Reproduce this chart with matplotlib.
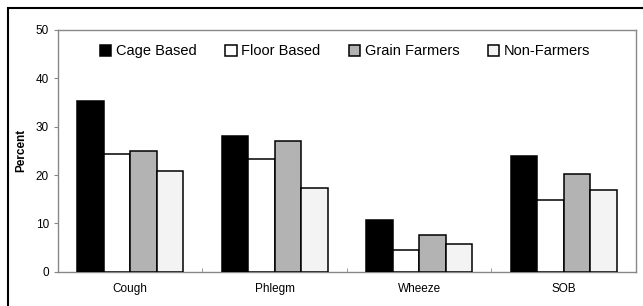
import matplotlib.pyplot as plt
from matplotlib.patches import Rectangle
import numpy as np

# Data
symptoms = ['Cough', 'Phlegm', 'Wheeze', 'SOB']
groups = ['Cage Based', 'Floor Based', 'Grain Farmers', 'Non-Farmers']
cage_based = [35.4, 28.1, 10.8, 24.0]
floor_based = [24.4, 23.3, 4.4, 14.9]
grain_farmers = [25.0, 27.1, 7.5, 20.3]
non_farmers = [20.8, 17.4, 5.8, 17.0]

series = [cage_based, floor_based, grain_farmers, non_farmers]
colors = ['black', 'white', '#b3b3b3', '#f3f3f3']

plt.rcParams['font.family'] = ['Liberation Sans', 'DejaVu Sans']

fig = plt.figure(figsize=(6.43, 3.06), dpi=100)
ax = fig.add_axes([0.0902, 0.112, 0.8988, 0.790])

x = np.arange(len(symptoms))
w = 0.183
for i, (vals, name) in enumerate(zip(series, groups)):
    ax.bar(x + (i - 1.5) * w, vals, w, color=colors[i], edgecolor='black',
           linewidth=1.1, label=name, zorder=3)

ax.set_xlim(-0.5, 3.5)
ax.set_ylim(0, 50)
ax.set_yticks(range(0, 51, 10))
ax.set_xticks(x)
ax.set_xticklabels(symptoms, fontsize=8.5)
ax.tick_params(axis='x', length=0, pad=8)
ax.tick_params(axis='y', labelsize=8.5, length=3, color='#888888')
ax.set_xticks([0.5, 1.5, 2.5], minor=True)
ax.tick_params(axis='x', which='minor', length=3, color='#888888', direction='in')
for s in ax.spines.values():
    s.set_color('#888888')
    s.set_linewidth(1.0)

ax.set_ylabel('Percent', fontsize=8.5, fontweight='bold', labelpad=6)

ax.legend(ncol=4, loc='upper left', bbox_to_anchor=(0.062, 0.965), frameon=False,
          fontsize=10.5, handlelength=0.8, handleheight=0.8, handletextpad=0.3,
          columnspacing=1.95, borderaxespad=0)

# outer frame
fig.patches.append(Rectangle((8 / 643, -0.1), 1.2, 1 - 8 / 306 + 0.1, transform=fig.transFigure,
                             fill=False, edgecolor='black', linewidth=1.5, clip_on=False))

fig.savefig('out.png', dpi=100)
